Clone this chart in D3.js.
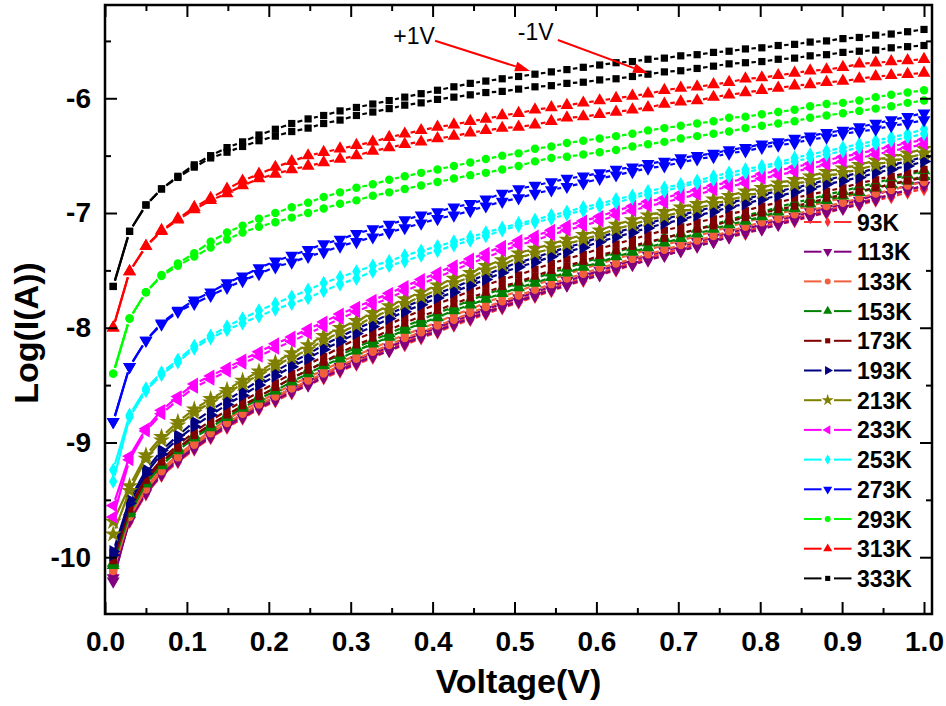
<!DOCTYPE html>
<html lang="en">
<head>
<meta charset="UTF-8">
<script src="https://d3js.org/d3.v7.min.js"></script>
<title>Log(I) vs Voltage</title>
<style>
  body{margin:0;background:#fff;}
  text{font-family:"Liberation Sans",Arial,sans-serif;}
</style>
</head>
<body>
<svg id="chart" width="946" height="706"></svg>
<script>
// sweep voltages (V)
const voltage = [
  0.010,0.030,0.050,0.069,0.089,0.109,0.129,0.149,0.168,0.188,
  0.208,0.228,0.248,0.267,0.287,0.307,0.327,0.347,0.366,0.386,
  0.406,0.426,0.446,0.465,0.485,0.505,0.525,0.545,0.564,0.584,
  0.604,0.624,0.644,0.663,0.683,0.703,0.723,0.743,0.762,0.782,
  0.802,0.822,0.842,0.861,0.881,0.901,0.921,0.941,0.960,0.980,
  1.000];

const temps = ["93K","113K","133K","153K","173K","193K","213K","233K","253K","273K","293K","313K","333K"];
const colors = ["#FF3030","#800080","#F0603C","#008000","#800000","#000080","#808000","#FF00FF","#00FFFF","#0000FF","#00FF00","#FF0000","#000000"];

// log I, +1V sweep (p) and -1V sweep (n)
const i93p = [
  -10.12,-9.67,-9.43,-9.27,-9.15,-9.04,-8.94,-8.85,-8.77,-8.69,
  -8.62,-8.55,-8.48,-8.42,-8.36,-8.30,-8.24,-8.18,-8.13,-8.07,
  -8.02,-7.96,-7.91,-7.86,-7.81,-7.76,-7.71,-7.66,-7.61,-7.57,
  -7.52,-7.48,-7.43,-7.39,-7.35,-7.31,-7.27,-7.23,-7.19,-7.16,
  -7.12,-7.08,-7.05,-7.01,-6.98,-6.94,-6.91,-6.87,-6.84,-6.80,
  -6.77];
const i93n = [
  -10.14,-9.69,-9.45,-9.29,-9.17,-9.06,-8.96,-8.87,-8.79,-8.71,
  -8.64,-8.57,-8.50,-8.44,-8.38,-8.32,-8.26,-8.20,-8.15,-8.09,
  -8.04,-7.98,-7.93,-7.88,-7.83,-7.78,-7.73,-7.68,-7.63,-7.59,
  -7.54,-7.50,-7.45,-7.41,-7.37,-7.33,-7.29,-7.25,-7.21,-7.18,
  -7.14,-7.10,-7.07,-7.03,-7.00,-6.96,-6.93,-6.89,-6.86,-6.82,
  -6.79];
const i113p = [
  -10.21,-9.66,-9.42,-9.26,-9.14,-9.03,-8.93,-8.84,-8.75,-8.68,
  -8.60,-8.53,-8.47,-8.40,-8.34,-8.28,-8.22,-8.17,-8.11,-8.05,
  -8.00,-7.94,-7.89,-7.84,-7.79,-7.74,-7.69,-7.64,-7.59,-7.55,
  -7.50,-7.46,-7.41,-7.37,-7.33,-7.29,-7.25,-7.21,-7.17,-7.14,
  -7.10,-7.06,-7.03,-6.99,-6.96,-6.92,-6.89,-6.84,-6.80,-6.76,
  -6.72];
const i113n = [
  -10.18,-9.68,-9.44,-9.28,-9.16,-9.05,-8.95,-8.86,-8.78,-8.70,
  -8.63,-8.56,-8.50,-8.43,-8.37,-8.31,-8.25,-8.20,-8.14,-8.08,
  -8.03,-7.97,-7.92,-7.87,-7.82,-7.77,-7.72,-7.67,-7.63,-7.58,
  -7.54,-7.49,-7.45,-7.41,-7.37,-7.33,-7.29,-7.25,-7.21,-7.17,
  -7.14,-7.10,-7.06,-7.03,-6.99,-6.96,-6.92,-6.88,-6.84,-6.80,
  -6.76];
const i133p = [
  -10.10,-9.63,-9.39,-9.23,-9.11,-9.00,-8.90,-8.80,-8.72,-8.65,
  -8.57,-8.50,-8.43,-8.37,-8.30,-8.24,-8.18,-8.12,-8.06,-8.01,
  -7.95,-7.89,-7.84,-7.78,-7.73,-7.68,-7.63,-7.58,-7.53,-7.49,
  -7.44,-7.40,-7.36,-7.32,-7.28,-7.24,-7.20,-7.16,-7.12,-7.08,
  -7.04,-7.01,-6.97,-6.94,-6.90,-6.87,-6.82,-6.78,-6.75,-6.71,
  -6.68];
const i133n = [
  -10.12,-9.65,-9.41,-9.25,-9.13,-9.02,-8.92,-8.83,-8.75,-8.67,
  -8.60,-8.53,-8.46,-8.40,-8.33,-8.27,-8.21,-8.15,-8.09,-8.04,
  -7.98,-7.93,-7.87,-7.82,-7.77,-7.72,-7.67,-7.62,-7.57,-7.53,
  -7.48,-7.44,-7.40,-7.36,-7.32,-7.28,-7.24,-7.20,-7.16,-7.12,
  -7.08,-7.05,-7.01,-6.98,-6.94,-6.91,-6.87,-6.83,-6.80,-6.76,
  -6.73];
const i153p = [
  -10.05,-9.60,-9.34,-9.18,-9.05,-8.94,-8.85,-8.76,-8.68,-8.60,
  -8.52,-8.44,-8.37,-8.30,-8.24,-8.17,-8.11,-8.05,-7.99,-7.93,
  -7.87,-7.82,-7.76,-7.71,-7.66,-7.61,-7.57,-7.52,-7.48,-7.43,
  -7.39,-7.34,-7.30,-7.26,-7.22,-7.18,-7.14,-7.10,-7.06,-7.02,
  -6.99,-6.95,-6.91,-6.88,-6.84,-6.81,-6.77,-6.74,-6.70,-6.67,
  -6.63];
const i153n = [
  -10.07,-9.62,-9.36,-9.20,-9.07,-8.96,-8.87,-8.78,-8.70,-8.62,
  -8.55,-8.47,-8.40,-8.33,-8.27,-8.20,-8.14,-8.08,-8.02,-7.96,
  -7.91,-7.85,-7.80,-7.75,-7.70,-7.65,-7.61,-7.56,-7.52,-7.47,
  -7.43,-7.38,-7.34,-7.30,-7.26,-7.22,-7.18,-7.14,-7.10,-7.07,
  -7.03,-6.99,-6.96,-6.92,-6.89,-6.85,-6.82,-6.78,-6.75,-6.72,
  -6.68];
const i173p = [
  -10.01,-9.56,-9.31,-9.15,-9.02,-8.91,-8.81,-8.72,-8.64,-8.56,
  -8.48,-8.40,-8.32,-8.25,-8.17,-8.10,-8.04,-7.97,-7.91,-7.85,
  -7.79,-7.74,-7.68,-7.63,-7.58,-7.54,-7.49,-7.44,-7.40,-7.36,
  -7.31,-7.27,-7.23,-7.19,-7.15,-7.12,-7.08,-7.05,-7.01,-6.98,
  -6.94,-6.91,-6.87,-6.84,-6.81,-6.78,-6.74,-6.71,-6.68,-6.65,
  -6.62];
const i173n = [
  -10.03,-9.58,-9.33,-9.17,-9.05,-8.94,-8.84,-8.76,-8.68,-8.60,
  -8.52,-8.44,-8.37,-8.30,-8.22,-8.15,-8.09,-8.02,-7.96,-7.90,
  -7.85,-7.79,-7.74,-7.69,-7.64,-7.60,-7.55,-7.50,-7.46,-7.42,
  -7.37,-7.33,-7.29,-7.25,-7.22,-7.18,-7.14,-7.11,-7.07,-7.04,
  -7.00,-6.97,-6.94,-6.91,-6.87,-6.84,-6.81,-6.78,-6.75,-6.72,
  -6.69];
const i193p = [
  -9.95,-9.50,-9.24,-9.07,-8.94,-8.82,-8.72,-8.63,-8.55,-8.46,
  -8.38,-8.30,-8.23,-8.15,-8.08,-8.01,-7.95,-7.88,-7.82,-7.76,
  -7.70,-7.65,-7.59,-7.54,-7.48,-7.43,-7.39,-7.34,-7.30,-7.26,
  -7.21,-7.17,-7.13,-7.09,-7.05,-7.02,-6.98,-6.95,-6.91,-6.88,
  -6.84,-6.81,-6.78,-6.75,-6.71,-6.68,-6.65,-6.61,-6.58,-6.55,
  -6.51];
const i193n = [
  -9.98,-9.53,-9.27,-9.10,-8.97,-8.86,-8.76,-8.67,-8.59,-8.50,
  -8.42,-8.34,-8.27,-8.19,-8.12,-8.05,-7.99,-7.92,-7.86,-7.80,
  -7.74,-7.69,-7.63,-7.58,-7.52,-7.47,-7.43,-7.38,-7.34,-7.30,
  -7.25,-7.21,-7.17,-7.13,-7.09,-7.06,-7.02,-6.99,-6.95,-6.92,
  -6.88,-6.85,-6.82,-6.79,-6.75,-6.72,-6.69,-6.65,-6.62,-6.59,
  -6.55];
const i213p = [
  -9.69,-9.38,-9.11,-8.95,-8.82,-8.71,-8.62,-8.54,-8.46,-8.38,
  -8.30,-8.22,-8.15,-8.07,-8.00,-7.94,-7.87,-7.81,-7.75,-7.69,
  -7.63,-7.57,-7.52,-7.46,-7.41,-7.35,-7.31,-7.27,-7.23,-7.19,
  -7.15,-7.10,-7.06,-7.02,-6.99,-6.95,-6.92,-6.88,-6.85,-6.81,
  -6.78,-6.74,-6.71,-6.68,-6.64,-6.61,-6.58,-6.54,-6.51,-6.48,
  -6.44];
const i213n = [
  -9.80,-9.42,-9.14,-8.98,-8.85,-8.74,-8.65,-8.57,-8.49,-8.41,
  -8.33,-8.26,-8.19,-8.11,-8.04,-7.98,-7.91,-7.85,-7.79,-7.73,
  -7.67,-7.61,-7.56,-7.50,-7.45,-7.39,-7.35,-7.31,-7.27,-7.23,
  -7.19,-7.14,-7.10,-7.06,-7.03,-6.99,-6.96,-6.92,-6.89,-6.85,
  -6.82,-6.78,-6.75,-6.72,-6.68,-6.65,-6.62,-6.58,-6.55,-6.52,
  -6.48];
const i233p = [
  -9.55,-9.12,-8.88,-8.72,-8.60,-8.49,-8.42,-8.35,-8.28,-8.21,
  -8.14,-8.08,-8.01,-7.95,-7.88,-7.82,-7.76,-7.70,-7.64,-7.58,
  -7.52,-7.46,-7.40,-7.35,-7.29,-7.24,-7.20,-7.15,-7.11,-7.07,
  -7.03,-6.98,-6.94,-6.90,-6.87,-6.83,-6.80,-6.76,-6.73,-6.70,
  -6.66,-6.63,-6.60,-6.57,-6.54,-6.51,-6.48,-6.45,-6.42,-6.39,
  -6.36];
const i233n = [
  -9.65,-9.15,-8.90,-8.75,-8.63,-8.52,-8.45,-8.38,-8.31,-8.25,
  -8.18,-8.12,-8.05,-7.99,-7.92,-7.86,-7.80,-7.74,-7.68,-7.62,
  -7.56,-7.50,-7.44,-7.39,-7.33,-7.28,-7.24,-7.19,-7.15,-7.11,
  -7.07,-7.02,-6.98,-6.94,-6.91,-6.87,-6.84,-6.80,-6.77,-6.74,
  -6.70,-6.67,-6.64,-6.61,-6.58,-6.55,-6.52,-6.49,-6.46,-6.43,
  -6.40];
const i253p = [
  -9.24,-8.76,-8.53,-8.39,-8.28,-8.16,-8.07,-7.99,-7.92,-7.85,
  -7.79,-7.73,-7.67,-7.61,-7.56,-7.51,-7.46,-7.42,-7.37,-7.33,
  -7.29,-7.25,-7.21,-7.17,-7.13,-7.09,-7.06,-7.02,-6.99,-6.95,
  -6.92,-6.88,-6.85,-6.81,-6.78,-6.75,-6.72,-6.68,-6.65,-6.62,
  -6.59,-6.56,-6.52,-6.49,-6.46,-6.43,-6.40,-6.37,-6.34,-6.31,
  -6.27];
const i253n = [
  -9.34,-8.78,-8.55,-8.41,-8.30,-8.18,-8.09,-8.02,-7.96,-7.90,
  -7.84,-7.79,-7.74,-7.68,-7.62,-7.57,-7.51,-7.46,-7.42,-7.37,
  -7.33,-7.28,-7.24,-7.20,-7.15,-7.11,-7.08,-7.05,-7.01,-6.98,
  -6.94,-6.91,-6.87,-6.84,-6.81,-6.77,-6.74,-6.71,-6.68,-6.65,
  -6.61,-6.58,-6.55,-6.52,-6.49,-6.46,-6.43,-6.40,-6.37,-6.34,
  -6.31];
const i273p = [
  -8.82,-8.34,-8.11,-7.96,-7.85,-7.76,-7.69,-7.61,-7.55,-7.48,
  -7.42,-7.37,-7.32,-7.27,-7.23,-7.18,-7.14,-7.10,-7.06,-7.02,
  -6.99,-6.95,-6.92,-6.88,-6.83,-6.79,-6.76,-6.73,-6.70,-6.68,
  -6.65,-6.62,-6.60,-6.57,-6.55,-6.52,-6.50,-6.48,-6.45,-6.43,
  -6.40,-6.38,-6.35,-6.33,-6.30,-6.28,-6.25,-6.22,-6.19,-6.16,
  -6.13];
const i273n = [
  -8.82,-8.34,-8.11,-7.97,-7.86,-7.79,-7.72,-7.65,-7.59,-7.53,
  -7.47,-7.43,-7.38,-7.34,-7.29,-7.25,-7.21,-7.17,-7.13,-7.09,
  -7.05,-7.02,-6.98,-6.94,-6.90,-6.87,-6.83,-6.80,-6.77,-6.74,
  -6.70,-6.67,-6.64,-6.61,-6.59,-6.56,-6.53,-6.51,-6.48,-6.46,
  -6.43,-6.41,-6.39,-6.36,-6.34,-6.31,-6.29,-6.27,-6.24,-6.22,
  -6.19];
const i293p = [
  -8.40,-7.92,-7.69,-7.54,-7.44,-7.35,-7.25,-7.17,-7.11,-7.05,
  -7.00,-6.95,-6.91,-6.86,-6.82,-6.78,-6.75,-6.71,-6.68,-6.65,
  -6.62,-6.59,-6.56,-6.53,-6.50,-6.48,-6.44,-6.42,-6.39,-6.37,
  -6.35,-6.33,-6.31,-6.28,-6.26,-6.24,-6.22,-6.20,-6.17,-6.16,
  -6.14,-6.12,-6.10,-6.07,-6.05,-6.04,-6.02,-5.99,-5.97,-5.95,
  -5.93];
const i293n = [
  -8.40,-7.92,-7.69,-7.55,-7.46,-7.38,-7.30,-7.23,-7.17,-7.12,
  -7.08,-7.04,-7.00,-6.96,-6.92,-6.89,-6.85,-6.82,-6.79,-6.76,
  -6.73,-6.70,-6.67,-6.65,-6.62,-6.59,-6.55,-6.52,-6.51,-6.49,
  -6.47,-6.45,-6.42,-6.40,-6.38,-6.35,-6.33,-6.31,-6.29,-6.26,
  -6.24,-6.22,-6.20,-6.17,-6.15,-6.13,-6.11,-6.09,-6.07,-6.04,
  -6.02];
const i313p = [
  -8.00,-7.51,-7.29,-7.15,-7.05,-6.95,-6.87,-6.79,-6.72,-6.66,
  -6.60,-6.55,-6.50,-6.47,-6.44,-6.41,-6.38,-6.34,-6.31,-6.28,
  -6.25,-6.23,-6.20,-6.18,-6.15,-6.13,-6.10,-6.08,-6.06,-6.04,
  -6.02,-6.00,-5.98,-5.96,-5.93,-5.91,-5.90,-5.88,-5.86,-5.83,
  -5.82,-5.80,-5.78,-5.76,-5.75,-5.73,-5.70,-5.69,-5.68,-5.67,
  -5.66];
const i313n = [
  -8.00,-7.51,-7.29,-7.16,-7.06,-6.97,-6.89,-6.83,-6.76,-6.70,
  -6.66,-6.62,-6.59,-6.56,-6.53,-6.50,-6.46,-6.43,-6.40,-6.38,
  -6.35,-6.33,-6.30,-6.28,-6.26,-6.25,-6.23,-6.20,-6.17,-6.16,
  -6.14,-6.12,-6.10,-6.08,-6.05,-6.03,-6.02,-5.99,-5.97,-5.95,
  -5.93,-5.91,-5.89,-5.88,-5.86,-5.85,-5.83,-5.81,-5.80,-5.79,
  -5.78];
const i333p = [
  -7.64,-7.16,-6.93,-6.79,-6.68,-6.58,-6.50,-6.43,-6.38,-6.32,
  -6.27,-6.22,-6.18,-6.15,-6.11,-6.08,-6.05,-6.02,-5.99,-5.96,
  -5.93,-5.90,-5.87,-5.85,-5.83,-5.81,-5.79,-5.77,-5.75,-5.73,
  -5.71,-5.69,-5.68,-5.66,-5.65,-5.63,-5.62,-5.60,-5.59,-5.57,
  -5.56,-5.54,-5.53,-5.51,-5.50,-5.48,-5.47,-5.45,-5.44,-5.42,
  -5.40];
const i333n = [
  -7.64,-7.16,-6.93,-6.79,-6.69,-6.60,-6.52,-6.47,-6.42,-6.37,
  -6.33,-6.29,-6.26,-6.22,-6.19,-6.15,-6.12,-6.09,-6.06,-6.04,
  -6.01,-5.99,-5.97,-5.95,-5.94,-5.92,-5.90,-5.89,-5.87,-5.86,
  -5.84,-5.83,-5.81,-5.79,-5.77,-5.76,-5.74,-5.72,-5.70,-5.69,
  -5.68,-5.66,-5.65,-5.63,-5.62,-5.60,-5.59,-5.58,-5.56,-5.55,
  -5.54];

const xTicks = [0,0.1,0.2,0.3,0.4,0.5,0.6,0.7,0.8,0.9,1.0];
const xMinor = [0.05,0.15,0.25,0.35,0.45,0.55,0.65,0.75,0.85,0.95];
const yTicks = [-10,-9,-8,-7,-6];
const yMinor = [-9.5,-8.5,-7.5,-6.5,-5.5];

// arrow notes: label, text anchor point, arrow start, arrow tip (data coords)
const noteLabels = ["+1V","-1V"];
const noteText = [[0.352,-5.527],[0.504,-5.492]];
const noteFrom = [[0.403,-5.498],[0.553,-5.492]];
const noteTo   = [[0.519,-5.762],[0.663,-5.782]];

const posData = [i93p,i113p,i133p,i153p,i173p,i193p,i213p,i233p,i253p,i273p,i293p,i313p,i333p];
const negData = [i93n,i113n,i133n,i153n,i173n,i193n,i213n,i233n,i253n,i273n,i293n,i313n,i333n];

// marker shape per temperature: [symbol, rotation]
const shapes = [
  [d3.symbolDiamond,0],[d3.symbolTriangle,180],[d3.symbolCircle,0],[d3.symbolTriangle,0],
  [d3.symbolSquare,0],[d3.symbolTriangle,90],[d3.symbolStar,0],[d3.symbolTriangle,-90],
  [d3.symbolDiamond,0],[d3.symbolTriangle,180],[d3.symbolCircle,0],[d3.symbolTriangle,0],
  [d3.symbolSquare,0]];
const symSize = {diamond:62, triangle:72, circle:56, square:52, star:90};
function sizeOf(t, small){
  let s = t===d3.symbolDiamond ? symSize.diamond : t===d3.symbolTriangle ? symSize.triangle :
          t===d3.symbolCircle ? symSize.circle : t===d3.symbolSquare ? symSize.square : symSize.star;
  return small ? s*0.5 : s;
}

const svg = d3.select("#chart");
const L = 105, R = 932, T = 5, B = 614;
const x = d3.scaleLinear().domain([0, 1.00977]).range([L, R]);
const y = d3.scaleLinear().domain([-10.495, -5.187]).range([B, T]);

const plot = svg.append("g");
const gap = 6;

function drawCurve(vals, k){
  const pts = voltage.map((v,i) => [x(v), y(vals[i])]);
  const segs = d3.pairs(pts).map(([a,b]) => {
    const dx = b[0]-a[0], dy = b[1]-a[1], len = Math.hypot(dx,dy);
    if (len <= 2*gap) return null;
    const ux = dx/len, uy = dy/len;
    return [a[0]+ux*gap, a[1]+uy*gap, b[0]-ux*gap, b[1]-uy*gap];
  }).filter(d => d);
  const g = plot.append("g");
  g.selectAll("line").data(segs).join("line")
    .attr("x1",d=>d[0]).attr("y1",d=>d[1]).attr("x2",d=>d[2]).attr("y2",d=>d[3])
    .attr("stroke",colors[k]).attr("stroke-width",2.2);
  const [type, rot] = shapes[k];
  g.selectAll("path").data(pts).join("path")
    .attr("transform", d => `translate(${d[0]},${d[1]}) rotate(${rot})`)
    .attr("d", d3.symbol().type(type).size(sizeOf(type,false)))
    .attr("fill", colors[k]);
}

temps.forEach((t,k) => {
  drawCurve(negData[k], k);
  drawCurve(posData[k], k);
});

// axes with inward ticks
const fmtX = d => d.toFixed(1);
const fmtY = d => String(d);
function styleAxis(g){
  g.select(".domain").remove();
  g.selectAll(".tick line").attr("stroke","#000").attr("stroke-width",2);
  g.selectAll(".tick text").attr("fill","#000")
    .style("font-size","28px").style("font-weight","bold");
}
svg.append("g").attr("transform",`translate(0,${B})`)
  .call(d3.axisBottom(x).tickValues(xTicks).tickFormat(fmtX).tickSize(-12).tickPadding(17)).call(styleAxis);
svg.append("g").attr("transform",`translate(0,${B})`)
  .call(d3.axisBottom(x).tickValues(xMinor).tickFormat("").tickSize(-6)).call(styleAxis);
svg.append("g").attr("transform",`translate(0,${T})`)
  .call(d3.axisTop(x).tickValues(xTicks).tickFormat("").tickSize(-12)).call(styleAxis);
svg.append("g").attr("transform",`translate(0,${T})`)
  .call(d3.axisTop(x).tickValues(xMinor).tickFormat("").tickSize(-6)).call(styleAxis);
svg.append("g").attr("transform",`translate(${L},0)`)
  .call(d3.axisLeft(y).tickValues(yTicks).tickFormat(fmtY).tickSize(-12).tickPadding(14)).call(styleAxis);
svg.append("g").attr("transform",`translate(${L},0)`)
  .call(d3.axisLeft(y).tickValues(yMinor).tickFormat("").tickSize(-6)).call(styleAxis);
svg.append("g").attr("transform",`translate(${R},0)`)
  .call(d3.axisRight(y).tickValues(yTicks).tickFormat("").tickSize(-12)).call(styleAxis);
svg.append("g").attr("transform",`translate(${R},0)`)
  .call(d3.axisRight(y).tickValues(yMinor).tickFormat("").tickSize(-6)).call(styleAxis);

svg.append("rect").attr("x",L).attr("y",T).attr("width",R-L).attr("height",B-T)
  .attr("fill","none").attr("stroke","#000").attr("stroke-width",2.5);

// axis titles
svg.append("text").attr("x",(L+R)/2).attr("y",693).attr("text-anchor","middle")
  .style("font-size","34px").style("font-weight","bold").text("Voltage(V)");
svg.append("text").attr("transform","translate(38,333) rotate(-90)").attr("text-anchor","middle")
  .style("font-size","34px").style("font-weight","bold").text("Log(I(A))");

// legend
const leg = svg.append("g");
temps.forEach((t,k) => {
  const cy = 222 + k*29.7;
  const gl = leg.append("g").attr("transform",`translate(0,${cy})`);
  gl.append("line").attr("x1",804).attr("x2",821.5).attr("stroke",colors[k]).attr("stroke-width",2);
  gl.append("line").attr("x1",834).attr("x2",851.5).attr("stroke",colors[k]).attr("stroke-width",2);
  const [type, rot] = shapes[k];
  gl.append("path").attr("transform",`translate(827.7,0) rotate(${rot})`)
    .attr("d", d3.symbol().type(type).size(sizeOf(type,true))).attr("fill",colors[k]);
  gl.append("text").attr("x",857).attr("y",8.5).style("font-size","23px").style("font-weight","bold").text(t);
});

// +1V / -1V annotations
noteLabels.forEach((lab,i) => {
  svg.append("text").attr("x",x(noteText[i][0])).attr("y",y(noteText[i][1]))
    .style("font-size","23px").text(lab);
  const x1 = x(noteFrom[i][0]), y1 = y(noteFrom[i][1]);
  const x2 = x(noteTo[i][0]), y2 = y(noteTo[i][1]);
  const ang = Math.atan2(y2-y1, x2-x1), hl = 15, hw = 5;
  const bx = x2 - hl*Math.cos(ang), by = y2 - hl*Math.sin(ang);
  svg.append("line").attr("x1",x1).attr("y1",y1).attr("x2",bx).attr("y2",by)
    .attr("stroke","#FF0000").attr("stroke-width",2);
  svg.append("path")
    .attr("d", `M${x2},${y2}L${bx - hw*Math.sin(ang)},${by + hw*Math.cos(ang)}L${bx + hw*Math.sin(ang)},${by - hw*Math.cos(ang)}Z`)
    .attr("fill","#FF0000");
});
</script>
</body>
</html>
